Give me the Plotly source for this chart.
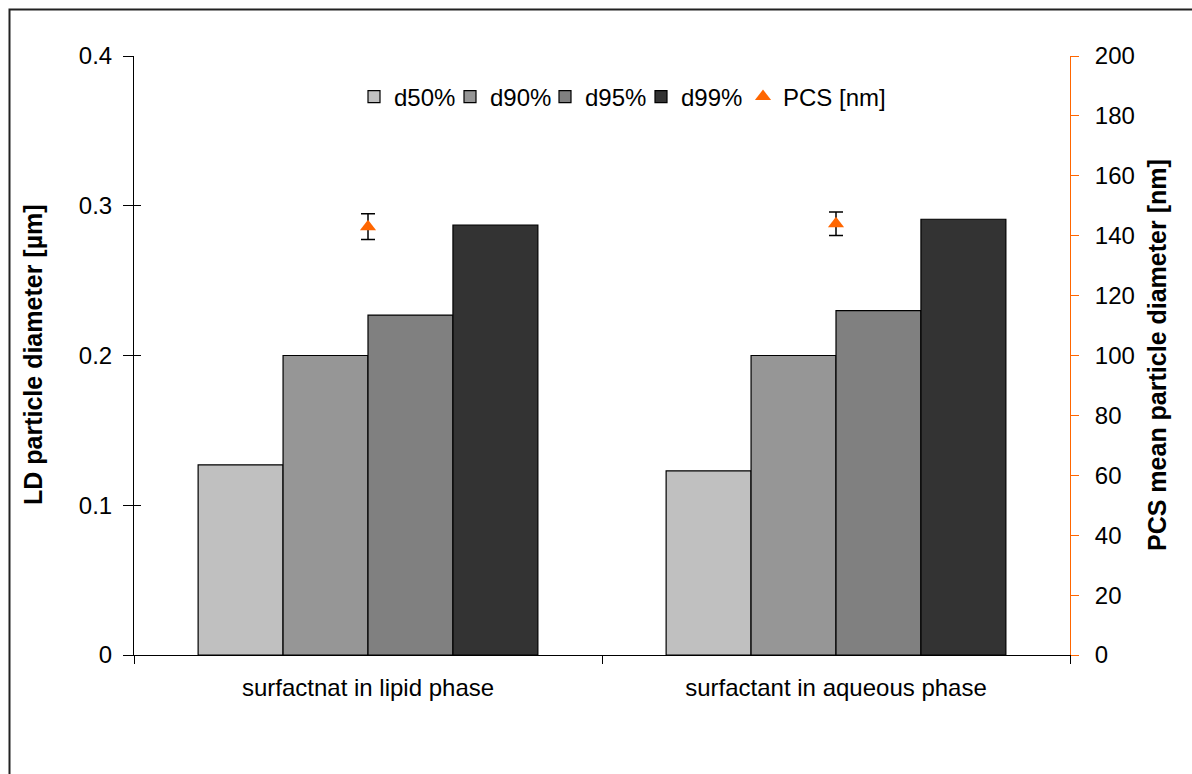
import plotly.graph_objects as go

# Data
categories = ["surfactnat in lipid phase", "surfactant in aqueous phase"]
series_names = ["d50%", "d90%", "d95%", "d99%"]
d50 = [0.127, 0.123]
d90 = [0.200, 0.200]
d95 = [0.227, 0.230]
d99 = [0.287, 0.291]
pcs_nm = [143, 144]
pcs_err = [4.3, 3.9]

bar_colors = ["#C0C0C0", "#969696", "#808080", "#333333"]
orange = "#FF6600"
font_family = "Liberation Sans, Arial, sans-serif"

W, H = 1192, 774
L, R, T, B = 134, 122, 56, 119
pw, ph = W - L - R, H - T - B


def px_x(x):
    return (x - L) / pw


def px_y(y):
    return (H - B - y) / ph


# left edge (px) of each legend entry, one legend per entry
legend_left_px = [354, 450, 545, 641, 743]
legend_ids = ["legend", "legend2", "legend3", "legend4", "legend5"]

fig = go.Figure()

for name, vals, col, lg in zip(series_names, [d50, d90, d95, d99], bar_colors, legend_ids):
    fig.add_trace(go.Bar(
        x=categories, y=vals, name=name, legend=lg,
        marker=dict(color=col, line=dict(color="black", width=1.2)),
    ))

fig.add_trace(go.Scatter(
    x=categories, y=pcs_nm, name="PCS [nm]", yaxis="y2", mode="markers", legend=legend_ids[4],
    marker=dict(symbol="triangle-up", size=14, color=orange),
    error_y=dict(type="data", array=pcs_err, color="black", thickness=1.5, width=7),
))

tick_font = dict(family=font_family, size=24, color="black")
legend_font = dict(family=font_family, size=24, color="black")

legends = {
    lg: dict(orientation="h", x=px_x(xl), y=px_y(97), xanchor="left", yanchor="middle",
             font=legend_font, bgcolor="rgba(0,0,0,0)")
    for lg, xl in zip(legend_ids, legend_left_px)
}

fig.update_layout(
    width=W, height=H,
    margin=dict(l=L, r=R, t=T, b=B),
    paper_bgcolor="white", plot_bgcolor="white",
    barmode="group", bargap=0.274, bargroupgap=0,
    font=tick_font,
    showlegend=True,
    **legends,
    xaxis=dict(
        showline=True, linecolor="black", linewidth=1,
        ticks="outside", ticklen=8, tickcolor="black", tickson="boundaries",
        ticklabelstandoff=11, showgrid=False, zeroline=False,
        tickfont=tick_font,
    ),
    yaxis=dict(
        range=[0, 0.4], tickvals=[0, 0.1, 0.2, 0.3, 0.4],
        ticktext=["0", "0.1", "0.2", "0.3", "0.4"],
        showline=True, linecolor="black", linewidth=1,
        ticks="outside", ticklen=10, tickcolor="black",
        ticklabelstandoff=6, showgrid=False, zeroline=False,
        tickfont=tick_font,
    ),
    yaxis3=dict(
        range=[0, 0.4], tickvals=[0, 0.1, 0.2, 0.3, 0.4], overlaying="y", side="left",
        ticks="inside", ticklen=7, tickcolor="black", showticklabels=False,
        showline=False, showgrid=False, zeroline=False,
    ),
    yaxis2=dict(
        range=[0, 200], dtick=20, overlaying="y", side="right",
        showline=True, linecolor=orange, linewidth=1,
        ticks="outside", ticklen=8, tickcolor=orange,
        ticklabelstandoff=11, showgrid=False, zeroline=False,
        tickfont=tick_font,
    ),
)

# invisible trace that carries the inner tick marks of the left axis
fig.add_trace(go.Scatter(x=[categories[0]], y=[0], yaxis="y3", mode="markers",
                         marker=dict(opacity=0), showlegend=False, hoverinfo="skip"))

title_font = dict(family=font_family, size=25, color="black")
fig.add_annotation(text="<b>LD particle diameter [µm]</b>", xref="paper", yref="paper",
                   x=px_x(33), y=px_y(355), textangle=-90, showarrow=False,
                   font=title_font, xanchor="center", yanchor="middle")
fig.add_annotation(text="<b>PCS mean particle diameter [nm]</b>", xref="paper", yref="paper",
                   x=px_x(1157), y=px_y(355), textangle=-90, showarrow=False,
                   font=title_font, xanchor="center", yanchor="middle")

# outer frame
fig.add_shape(type="rect", xref="paper", yref="paper",
              x0=px_x(9.5), x1=px_x(1210), y0=px_y(790), y1=px_y(9.5),
              line=dict(color="#222222", width=2), fillcolor="rgba(0,0,0,0)", layer="below")

fig.write_html("out.html")
